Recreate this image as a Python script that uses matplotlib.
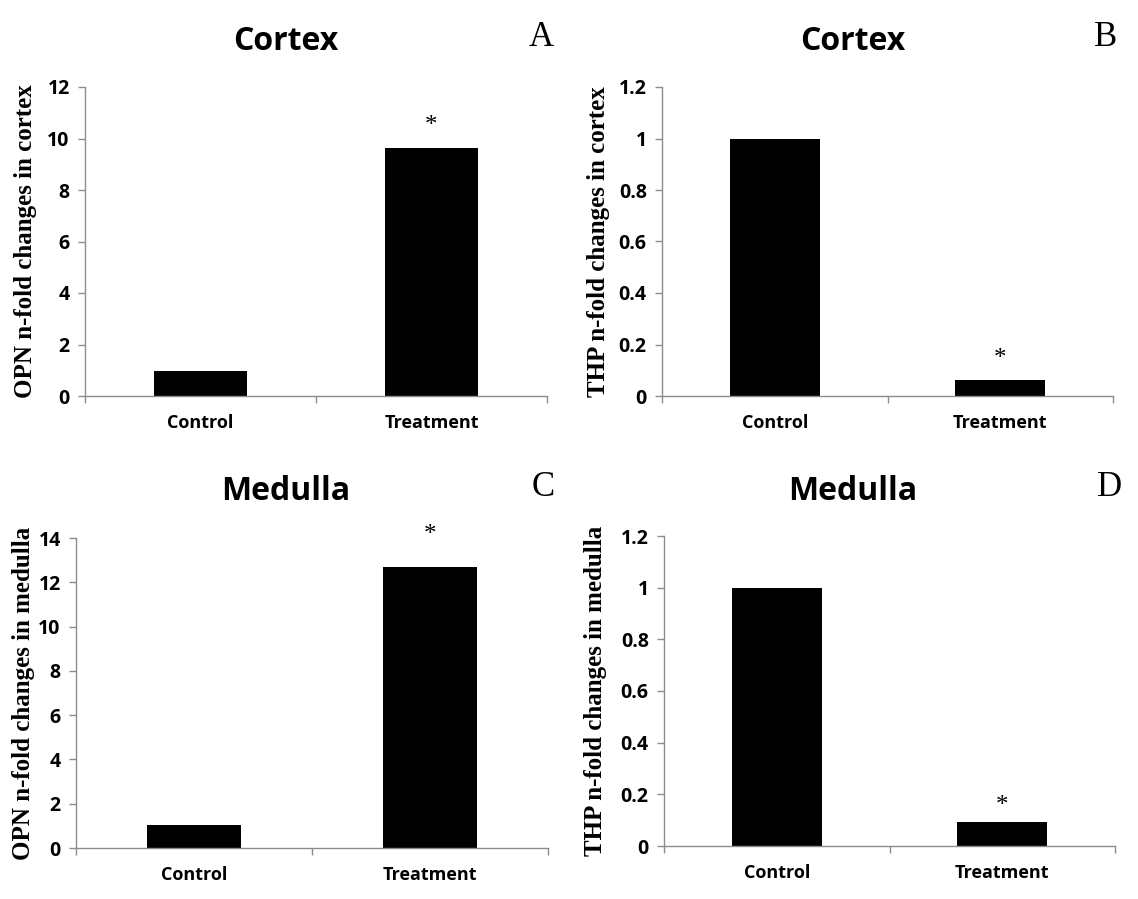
import matplotlib
matplotlib.use("Agg")
import matplotlib.pyplot as plt
from matplotlib.ticker import FuncFormatter

# data
categories = ["Control", "Treatment"]
opn_cortex = [0.97, 9.63]
thp_cortex = [1.0, 0.062]
opn_medulla = [1.03, 12.7]
thp_medulla = [1.0, 0.093]

# y position of the significance star above the treatment bar
star_y = [10.5, 0.145, 14.15, 0.155]

titles = ["Cortex", "Cortex", "Medulla", "Medulla"]
letters = ["A", "B", "C", "D"]
ylabels = ["OPN n-fold changes in cortex", "THP n-fold changes in cortex",
           "OPN n-fold changes in medulla", "THP n-fold changes in medulla"]
ymax = [12, 1.2, 14, 1.2]
ystep = [2, 0.2, 2, 0.2]

W, H = 1138, 899
# axes boxes in pixels: left, right, top, bottom
boxes = [(85, 547, 87, 396), (662, 1113, 87, 396),
         (76, 548, 538, 848), (664, 1115, 536, 846)]
title_pos = [(286, 42), (853, 42), (286, 492), (853, 492)]
letter_pos = [(541, 37), (1106, 37), (543, 487), (1110, 487)]
ylabel_x = [-0.104, -0.115, -0.087, -0.126]

grey = "#8c8c8c"
fig = plt.figure(figsize=(W / 100, H / 100), dpi=100)

series = [opn_cortex, thp_cortex, opn_medulla, thp_medulla]
for i, vals in enumerate(series):
    l, r, t, b = boxes[i]
    ax = fig.add_axes([l / W, 1 - b / H, (r - l) / W, (b - t) / H])
    x = range(len(categories))
    ax.bar(x, vals, width=0.4, color="black")
    ax.set_xlim(-0.5, 1.5)
    ax.set_ylim(0, ymax[i])
    n = int(round(ymax[i] / ystep[i]))
    ax.set_yticks([k * ystep[i] for k in range(n + 1)])
    ax.yaxis.set_major_formatter(FuncFormatter(lambda v, p: f"{round(v, 2):g}"))
    ax.set_xticks(list(x))
    ax.set_xticklabels(categories)
    ax.set_xticks([-0.5, 0.5, 1.5], minor=True)

    for s in ["top", "right"]:
        ax.spines[s].set_visible(False)
    for s in ["left", "bottom"]:
        ax.spines[s].set_color(grey)
        ax.spines[s].set_linewidth(1.0)

    ax.tick_params(axis="y", direction="out", length=5, width=1, color=grey,
                   pad=6, labelsize=14)
    ax.tick_params(axis="x", which="major", length=0, pad=13, labelsize=13)
    ax.tick_params(axis="x", which="minor", direction="out", length=5, width=1,
                   color=grey)
    for lab in ax.get_xticklabels() + ax.get_yticklabels():
        lab.set_fontfamily("Open Sans")
        lab.set_fontweight("bold")

    ax.set_ylabel(ylabels[i], fontsize=18, fontweight="bold",
                  fontfamily="Liberation Serif")
    ax.yaxis.set_label_coords(ylabel_x[i], 0.5)

    ax.text(1, star_y[i], "*", ha="center", va="center", fontsize=18,
            fontfamily="Liberation Serif", clip_on=False)

    tx, ty = title_pos[i]
    fig.text(tx / W, 1 - ty / H, titles[i], ha="center", va="center",
             fontsize=23, fontweight="bold", fontfamily="Open Sans")
    lx, ly = letter_pos[i]
    fig.text(lx / W, 1 - ly / H, letters[i], ha="center", va="center",
             fontsize=25, fontfamily="Liberation Serif")

fig.savefig("out.png", dpi=100)
